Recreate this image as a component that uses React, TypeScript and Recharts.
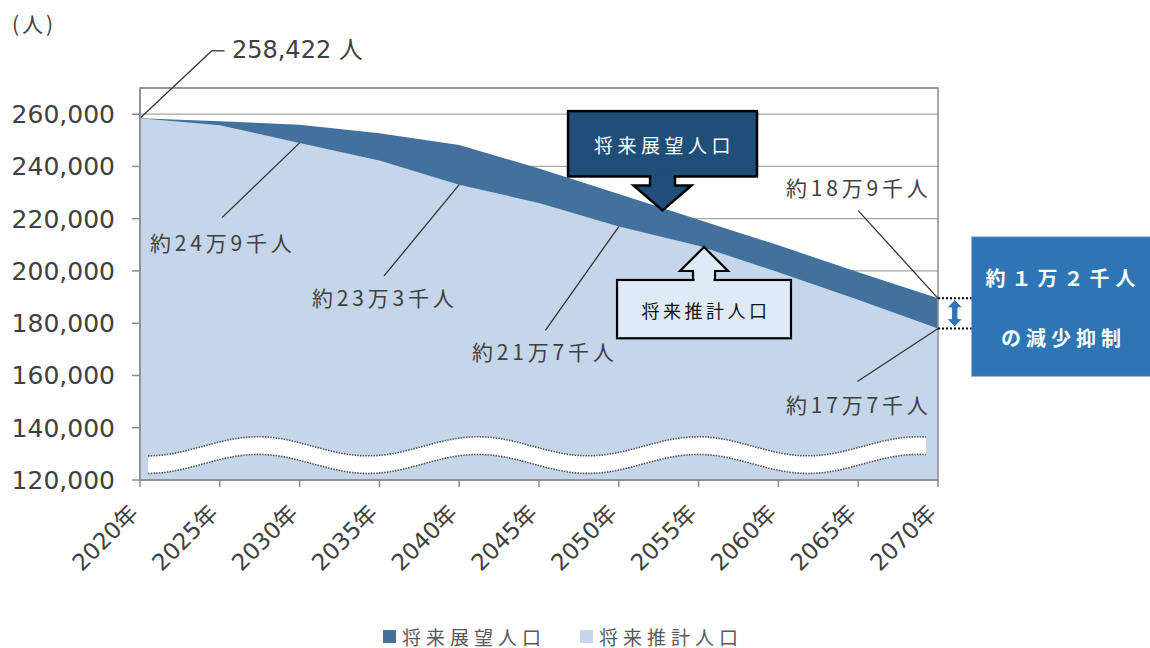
import React from 'react';
import {
  AreaChart,
  Area,
  XAxis,
  YAxis,
  CartesianGrid,
  Legend,
  ReferenceArea,
  ReferenceLine,
  ReferenceDot,
} from 'recharts';

// ---------- data ----------
const years = [2020, 2025, 2030, 2035, 2040, 2045, 2050, 2055, 2060, 2065, 2070];
const tenboValues = [258422, 257300, 255900, 252700, 248200, 239200, 229400, 219600, 209800, 199500, 189500];
const suikeiValues = [258422, 255700, 249000, 242300, 233000, 226000, 217000, 209600, 199500, 189000, 178000];
const yTicks = [120000, 140000, 160000, 180000, 200000, 220000, 240000, 260000];
const seriesNames = ['将来展望人口', '将来推計人口'];
const unitLabel = '(人)';
const yearSuffix = '年';
const startLabel = '258,422 人';
const pointLabels = ['約24万9千人', '約23万3千人', '約21万7千人', '約18万9千人', '約17万7千人'];
const calloutTop = '将来展望人口';
const calloutBottom = '将来推計人口';
const effectLines = ['約１万２千人', 'の減少抑制'];

const data = years.map((year, i) => ({
  year,
  tenbo: tenboValues[i],
  suikei: suikeiValues[i],
}));

// ---------- styles ----------
const DARK = '#41719C';
const LIGHT = '#C5D5EA';
const NAVY = '#1F4E79';
const BOXLIGHT = '#DEEBF7';
const BLUE = '#2E75B6';
const GRID = '#a6a6a6';
const TEXT = '#404040';
const NUMFONT = '"DejaVu Sans", "Noto Sans CJK JP", sans-serif';
const JPFONT = '"Noto Sans CJK JP", sans-serif';

const W = 1150;
const H = 648;

// ---------- annotation placement (data coordinates) ----------
const leaderSegments: [number, number, number, number][] = [
  [2020, 258422, 2024.5, 284230],
  [2024.5, 284230, 2025.3, 284230],
  [2030, 249000, 2025.14, 220400],
  [2040, 233000, 2035.29, 198100],
  [2050, 217000, 2045.4, 177300],
  [2065.0, 223100, 2070, 189500],
  [2070, 178000, 2064.95, 157700],
];
const labelAnchors: [number, number][] = [
  [2020.63, 211150],
  [2030.78, 190000],
  [2040.8, 169230],
  [2060.48, 232300],
  [2060.48, 149230],
];

const XTick = (props: any) => {
  const { x, y, payload } = props;
  const ex = x - 6;
  const ey = y + 16;
  return (
    <text
      x={ex}
      y={ey}
      transform={`rotate(-45 ${ex} ${ey})`}
      textAnchor="end"
      dominantBaseline="central"
      fill={TEXT}
      fontSize={23}
      fontFamily={NUMFONT}
    >
      {payload.value}
      {yearSuffix}
    </text>
  );
};

const WaveBand = (props: any) => {
  const { x, y, width, height } = props;
  const A = height * 0.26;
  const T = height * 0.48;
  const P = width * 0.2828;
  const n = 160;
  const top: [number, number][] = [];
  const bot: [number, number][] = [];
  for (let i = 0; i <= n; i++) {
    const px = x + (width * i) / n;
    const py = y + A + A * Math.cos((2 * Math.PI * (px - x)) / P);
    top.push([px, py]);
    bot.push([px, py + T]);
  }
  const topD = top.map((p, i) => `${i ? 'L' : 'M'}${p[0].toFixed(1)},${p[1].toFixed(1)}`).join(' ');
  const botD = bot.map((p, i) => `${i ? 'L' : 'M'}${p[0].toFixed(1)},${p[1].toFixed(1)}`).join(' ');
  const fillD =
    topD +
    ' ' +
    bot
      .slice()
      .reverse()
      .map((p) => `L${p[0].toFixed(1)},${p[1].toFixed(1)}`)
      .join(' ') +
    ' Z';
  return (
    <g>
      <path d={fillD} fill="#ffffff" stroke="none" />
      <path d={topD} fill="none" stroke="#555" strokeWidth={1.6} strokeDasharray="1.5 1.2" />
      <path d={botD} fill="none" stroke="#555" strokeWidth={1.6} strokeDasharray="1.5 1.2" />
    </g>
  );
};

const NavyCallout = (props: any) => {
  const { x, y, width, height } = props;
  const cx = x + width / 2;
  const b = y + height;
  const arrow = `M${cx - 12.5},${b} L${cx - 12.5},${b + 9} L${cx - 29},${b + 9} L${cx},${b + 34} L${cx + 29},${b + 9} L${cx + 12.5},${b + 9} L${cx + 12.5},${b}`;
  return (
    <g>
      <path d={arrow + ' Z'} fill={NAVY} stroke="#000" strokeWidth={2.5} strokeLinejoin="miter" />
      <rect x={x} y={y} width={width} height={height} fill={NAVY} stroke="#000" strokeWidth={2.5} />
      <rect x={cx - 11} y={b - 2} width={22} height={10} fill={NAVY} />
      <text
        x={cx + 2}
        y={y + height / 2 + 1}
        textAnchor="middle"
        dominantBaseline="central"
        fill="#fff"
        fontSize={19}
        letterSpacing={4.5}
        fontFamily={JPFONT}
      >
        {calloutTop}
      </text>
    </g>
  );
};

const LightCallout = (props: any) => {
  const { x, y, width, height } = props;
  const cx = x + width / 2;
  const arrow = `M${cx - 11},${y} L${cx - 11},${y - 9} L${cx - 24},${y - 9} L${cx},${y - 33} L${cx + 24},${y - 9} L${cx + 11},${y - 9} L${cx + 11},${y}`;
  return (
    <g>
      <path d={arrow + ' Z'} fill={BOXLIGHT} stroke="#000" strokeWidth={2.2} />
      <rect x={x} y={y} width={width} height={height} fill={BOXLIGHT} stroke="#000" strokeWidth={2.2} />
      <rect x={cx - 9.5} y={y - 2} width={19} height={6} fill={BOXLIGHT} />
      <text
        x={cx + 2}
        y={y + height / 2 + 1}
        textAnchor="middle"
        dominantBaseline="central"
        fill="#111"
        fontSize={18}
        letterSpacing={3.5}
        fontFamily={JPFONT}
      >
        {calloutBottom}
      </text>
    </g>
  );
};

const EffectBox = (props: any) => {
  const { x, y, width, height } = props;
  const cx = x + 89;
  return (
    <g>
      <rect x={x} y={y} width={width} height={height} fill={BLUE} stroke="#9db8d6" strokeWidth={1} />
      <text
        x={cx + 3}
        y={y + height * 0.295}
        textAnchor="middle"
        dominantBaseline="central"
        fill="#fff"
        fontSize={20}
        fontWeight="bold"
        letterSpacing={6}
        fontFamily={JPFONT}
      >
        {effectLines[0]}
      </text>
      <text
        x={cx + 3}
        y={y + height * 0.72}
        textAnchor="middle"
        dominantBaseline="central"
        fill="#fff"
        fontSize={20}
        fontWeight="bold"
        letterSpacing={5}
        fontFamily={JPFONT}
      >
        {effectLines[1]}
      </text>
    </g>
  );
};

const DoubleArrow = (props: any) => {
  const { x, y, width, height } = props;
  const cx = x + width / 2;
  const hw = width / 2;
  const sw = width * 0.2;
  const hh = height * 0.3;
  const d = `M${cx},${y} L${cx + hw},${y + hh} L${cx + sw},${y + hh} L${cx + sw},${y + height - hh} L${cx + hw},${y + height - hh} L${cx},${y + height} L${cx - hw},${y + height - hh} L${cx - sw},${y + height - hh} L${cx - sw},${y + hh} L${cx - hw},${y + hh} Z`;
  return <path d={d} fill={BLUE} stroke="#fff" strokeWidth={1} />;
};

const LegendContent = (props: any) => {
  const { payload } = props;
  return (
    <div
      style={{
        display: 'flex',
        alignItems: 'center',
        height: 24,
        paddingLeft: 383,
        fontFamily: JPFONT,
        fontSize: 19,
        color: '#595959',
      }}
    >
      {(payload || []).map((entry: any, i: number) => (
        <div key={i} style={{ display: 'flex', alignItems: 'center', marginRight: 34 }}>
          <span
            style={{
              display: 'inline-block',
              width: 13,
              height: 13,
              background: entry.color,
              marginRight: 6,
            }}
          />
          <span style={{ letterSpacing: 5 }}>{entry.value}</span>
        </div>
      ))}
    </div>
  );
};

export default function App() {
  return (
    <div style={{ position: 'relative', width: W, height: H, overflow: 'hidden' }}>
      <style>{'html, body { margin: 0; padding: 0; }'}</style>
      <div
        style={{
          position: 'absolute',
          left: 12,
          top: 11,
          fontFamily: JPFONT,
          fontSize: 21,
          letterSpacing: 3,
          color: TEXT,
          lineHeight: '24px',
          zIndex: 2,
        }}
      >
        {unitLabel}
      </div>
      <AreaChart
        width={W}
        height={H}
        data={data}
        margin={{ top: 88, right: 212, bottom: 0, left: 50 }}
      >
        <CartesianGrid horizontal vertical={false} stroke={GRID} strokeWidth={1.3} />
        <XAxis
          dataKey="year"
          type="number"
          domain={[2020, 2070]}
          ticks={years}
          allowDataOverflow
          height={144}
          tickSize={7}
          tickMargin={6}
          tick={<XTick />}
          axisLine={{ stroke: '#8c8c8c', strokeWidth: 1.5 }}
          tickLine={{ stroke: '#8c8c8c', strokeWidth: 1.5 }}
          interval={0}
        />
        <YAxis
          type="number"
          domain={[120000, 270000]}
          ticks={yTicks}
          allowDataOverflow
          width={90}
          tickSize={8}
          tickMargin={17}
          tickFormatter={(v: number) => v.toLocaleString('en-US')}
          tick={{ fill: TEXT, fontSize: 25, fontFamily: NUMFONT }}
          axisLine={{ stroke: '#8c8c8c', strokeWidth: 1.5 }}
          tickLine={{ stroke: '#8c8c8c', strokeWidth: 1.5 }}
          interval={0}
        />
        <Area
          type="linear"
          dataKey="tenbo"
          name={seriesNames[0]}
          fill={DARK}
          fillOpacity={1}
          stroke="none"
          isAnimationActive={false}
          baseValue={120000}
          dot={false}
          activeDot={false}
        />
        <Area
          type="linear"
          dataKey="suikei"
          name={seriesNames[1]}
          fill={LIGHT}
          fillOpacity={1}
          stroke="none"
          isAnimationActive={false}
          baseValue={120000}
          dot={false}
          activeDot={false}
        />
        <Legend
          verticalAlign="bottom"
          align="left"
          height={24}
          wrapperStyle={{ left: 0, bottom: 0, width: W, height: 24 }}
          content={<LegendContent />}
        />
        <ReferenceArea
          x1={2020.5}
          x2={2069.25}
          y1={122500}
          y2={136540}
          ifOverflow="visible"
          shape={(p: any) => <WaveBand {...p} />}
        />
        <ReferenceArea
          x1={2020}
          x2={2070}
          y1={120000}
          y2={270000}
          ifOverflow="visible"
          fill="none"
          fillOpacity={0}
          stroke="#8c8c8c"
          strokeWidth={1.5}
        />
        {leaderSegments.map((s, i) => (
          <ReferenceLine
            key={`ld${i}`}
            segment={[
              { x: s[0], y: s[1] },
              { x: s[2], y: s[3] },
            ]}
            stroke="#333"
            strokeWidth={1.3}
            ifOverflow="visible"
          />
        ))}
        <ReferenceLine
          segment={[
            { x: 2070, y: tenboValues[10] },
            { x: 2072.1, y: tenboValues[10] },
          ]}
          stroke="#000"
          strokeWidth={2}
          strokeDasharray="2 2"
          ifOverflow="visible"
        />
        <ReferenceLine
          segment={[
            { x: 2070, y: suikeiValues[10] },
            { x: 2072.1, y: suikeiValues[10] },
          ]}
          stroke="#000"
          strokeWidth={2}
          strokeDasharray="2 2"
          ifOverflow="visible"
        />
        <ReferenceArea
          x1={2070.55}
          x2={2071.55}
          y1={178600}
          y2={189000}
          ifOverflow="visible"
          shape={(p: any) => <DoubleArrow {...p} />}
        />
        <ReferenceDot
          x={2025.76}
          y={284600}
          r={0}
          ifOverflow="visible"
          shape={(p: any) => (
            <text
              x={p.cx}
              y={p.cy}
              dominantBaseline="central"
              fill={TEXT}
              fontSize={24}
              fontFamily={NUMFONT}
            >
              {startLabel}
            </text>
          )}
        />
        {pointLabels.map((t, i) => (
          <ReferenceDot
            key={`pl${i}`}
            x={labelAnchors[i][0]}
            y={labelAnchors[i][1]}
            r={0}
            ifOverflow="visible"
            shape={(p: any) => (
              <text
                x={p.cx}
                y={p.cy}
                dominantBaseline="central"
                fill={TEXT}
                fontSize={21}
                letterSpacing={3.8}
                fontFamily={JPFONT}
              >
                {t}
              </text>
            )}
          />
        ))}
        <ReferenceArea
          x1={2046.82}
          x2={2058.66}
          y1={236150}
          y2={261150}
          ifOverflow="visible"
          shape={(p: any) => <NavyCallout {...p} />}
        />
        <ReferenceArea
          x1={2049.89}
          x2={2060.79}
          y1={174230}
          y2={196540}
          ifOverflow="visible"
          shape={(p: any) => <LightCallout {...p} />}
        />
        <ReferenceArea
          x1={2072.1}
          x2={2084}
          y1={159620}
          y2={213080}
          ifOverflow="visible"
          shape={(p: any) => <EffectBox {...p} />}
        />
      </AreaChart>
    </div>
  );
}
